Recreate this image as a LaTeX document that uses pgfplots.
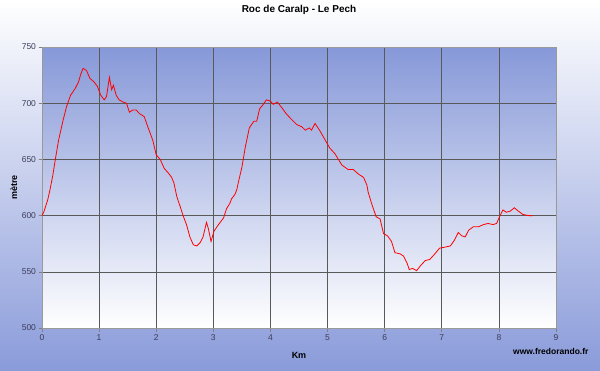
\documentclass[border=0pt]{standalone}
\usepackage{fontspec}
\setmainfont{Liberation Sans}
\usepackage{pgfplots}
\pgfplotsset{compat=1.18}
\definecolor{bgblue}{RGB}{138,155,218}
\definecolor{plotblue}{RGB}{134,152,216}
\definecolor{ticklab}{RGB}{60,60,90}
\begin{document}
\begin{tikzpicture}
\useasboundingbox (0pt,0pt) rectangle (600pt,370pt);
\shade[top color=white, bottom color=bgblue] (0pt,0pt) rectangle (600pt,370pt);
\begin{axis}[
  at={(42pt,42pt)}, anchor=south west,
  scale only axis, width=514pt, height=281pt,
  xmin=0, xmax=9, ymin=500, ymax=750,
  xtick={0,1,...,9}, ytick={500,550,...,750},
  clip=false,
  grid=major,
  major grid style={black!65, line width=0.6pt},
  axis line style={black!40, line width=0.8pt},
  tick style={black!50, line width=0.6pt},
  tick align=outside, major tick length=3.5pt,
  tick pos=left,
  axis background/.style={shade, top color=plotblue, middle color=plotblue!28!white, bottom color=white},
  /pgf/number format/assume math mode=true,
  ticklabel style={font=\fontsize{8.5}{10}\selectfont, text=ticklab},
  yticklabel style={xshift=1pt},
  title={\bfseries Roc de Caralp - Le Pech},
  title style={font=\fontsize{10}{12}\selectfont, at={(axis description cs:0.5,1.11)}, anchor=center},
  xlabel={\bfseries Km},
  xlabel style={font=\fontsize{9}{11}\selectfont, at={(axis description cs:0.5,-0.096)}, anchor=center},
  ylabel={\bfseries mètre},
  ylabel style={font=\fontsize{9}{11}\selectfont, at={(axis description cs:-0.0545,0.5)}, anchor=center, rotate=0},
]
\addplot[red, line width=0.8pt] coordinates {
(0.00,600) (0.03,603) (0.10,614) (0.14,623) (0.19,636) (0.23,649) (0.29,667)
(0.37,685) (0.43,697) (0.50,707) (0.58,713) (0.64,719) (0.68,726) (0.72,731)
(0.78,729) (0.84,722) (0.91,719) (0.97,715) (1.03,707) (1.09,703) (1.13,706)
(1.18,723) (1.22,712) (1.25,716) (1.30,707) (1.35,703) (1.42,701) (1.48,700)
(1.53,692) (1.59,694) (1.65,694) (1.70,691) (1.79,688) (1.86,678) (1.94,667)
(2.00,654) (2.07,650) (2.14,642) (2.21,638) (2.27,634) (2.31,629) (2.36,617)
(2.42,608) (2.47,600) (2.53,592) (2.59,581) (2.65,574) (2.71,573) (2.77,576)
(2.82,581) (2.88,594) (2.91,589) (2.96,577) (3.01,586) (3.09,592) (3.18,598)
(3.23,606) (3.29,611) (3.32,615) (3.38,619) (3.41,623) (3.44,630) (3.50,643)
(3.56,661) (3.63,678) (3.71,684) (3.76,684) (3.81,695) (3.86,698) (3.93,703)
(3.99,702) (4.05,699) (4.12,701) (4.20,696) (4.27,691) (4.36,686) (4.46,681)
(4.55,679) (4.61,676) (4.68,678) (4.72,676) (4.78,682) (4.86,676) (4.96,667)
(5.04,660) (5.13,655) (5.19,650) (5.25,645) (5.36,641) (5.45,641) (5.54,637)
(5.63,634) (5.69,627) (5.71,621) (5.77,611) (5.85,599) (5.92,597) (5.98,584)
(6.05,582) (6.12,577) (6.18,567) (6.27,566) (6.33,564) (6.39,558) (6.43,552)
(6.49,553) (6.56,551) (6.62,555) (6.71,560) (6.79,561) (6.88,566) (6.96,571)
(7.06,572) (7.15,573) (7.22,578) (7.29,585) (7.35,582) (7.41,581) (7.47,587)
(7.55,590) (7.64,590) (7.73,592) (7.81,593) (7.90,592) (7.96,593) (8.02,600)
(8.07,605) (8.13,603) (8.20,604) (8.27,607) (8.34,604) (8.42,601) (8.52,600)
(8.59,600)
};
\node[font=\bfseries\fontsize{8.5}{10}\selectfont, anchor=east] at (axis description cs:1.070,-0.082) {www.fredorando.fr};
\end{axis}
\end{tikzpicture}
\end{document}
